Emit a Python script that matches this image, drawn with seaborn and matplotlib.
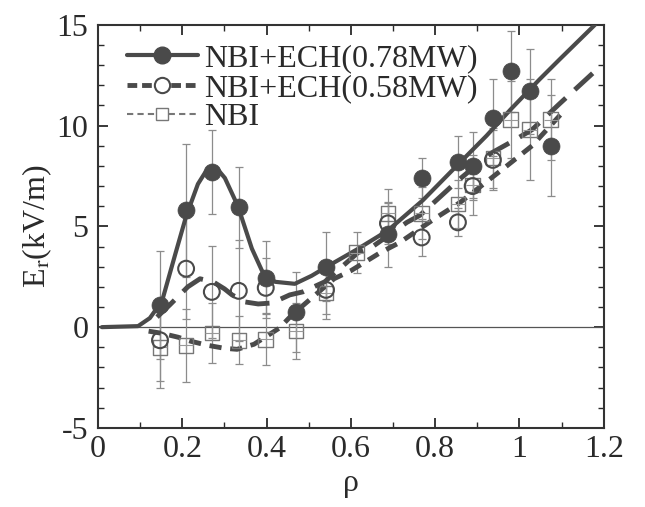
import seaborn as sns
import matplotlib.pyplot as plt
from matplotlib.lines import Line2D
from matplotlib.ticker import MultipleLocator

# measured points: NBI+ECH(0.78MW)
rho_078 = [0.147, 0.209, 0.270, 0.334, 0.398, 0.470, 0.541, 0.688, 0.768, 0.854, 0.889, 0.937, 0.979, 1.024, 1.074]
er_078 = [1.1, 5.8, 7.7, 5.95, 2.45, 0.75, 3.0, 4.6, 7.4, 8.2, 8.0, 10.4, 12.7, 11.7, 9.0]
err_078 = [2.7, 3.3, 2.1, 2.0, 1.8, 2.0, 1.7, 1.6, 1.0, 1.3, 1.7, 1.9, 2.0, 2.1, 2.5]

# measured points: NBI+ECH(0.58MW)
rho_058 = [0.147, 0.209, 0.270, 0.334, 0.398, 0.541, 0.688, 0.768, 0.854, 0.889, 0.937]
er_058 = [-0.65, 2.9, 1.75, 1.8, 1.95, 1.85, 5.15, 4.45, 5.2, 7.0, 8.3]
err_058 = [2.0, 2.5, 2.3, 2.5, 1.5, 1.2, 1.0, 0.9, 0.7, 0.6, 1.5]

# measured points: NBI only
rho_nbi = [0.147, 0.209, 0.270, 0.334, 0.398, 0.470, 0.541, 0.614, 0.688, 0.768, 0.854, 0.889, 0.937, 0.979, 1.024, 1.074]
er_nbi = [-1.0, -0.9, -0.3, -0.65, -0.6, -0.2, 1.7, 3.7, 5.65, 5.65, 6.1, 7.05, 8.4, 10.3, 9.8, 10.3]
err_nbi = [2.0, 1.8, 1.5, 1.2, 1.3, 1.4, 1.3, 1.0, 1.2, 1.3, 1.2, 1.5, 1.5, 1.9, 2.5, 2.0]

# fitted curves
fit_rho_078 = [0.009, 0.095, 0.123, 0.152, 0.183, 0.209, 0.237, 0.255, 0.270, 0.285, 0.301, 0.332,
               0.365, 0.389, 0.420, 0.467, 0.507, 0.543, 0.614, 0.688, 0.771, 0.851, 0.922, 0.979,
               1.048, 1.096, 1.179]
fit_er_078 = [0.0, 0.05, 0.45, 1.3, 3.6, 5.5, 7.1, 7.7, 7.9, 7.8, 7.4, 6.0,
              3.9, 2.8, 2.25, 2.15, 2.55, 3.0, 3.85, 4.8, 6.3, 8.0, 9.5, 10.8,
              12.3, 13.3, 15.0]

fit_rho_058 = [0.14, 0.17, 0.213, 0.242, 0.273, 0.30, 0.318, 0.349, 0.38, 0.413, 0.455, 0.486,
               0.538, 0.617, 0.645, 0.733, 0.764, 0.85, 0.93, 0.99, 1.03, 1.096, 1.174]
fit_er_058 = [0.5, 1.1, 2.0, 2.4, 2.25, 1.9, 1.6, 1.25, 1.15, 1.2, 1.6, 1.75,
              2.25, 3.7, 3.9, 5.2, 5.55, 7.2, 8.6, 9.3, 9.8, 11.1, 12.6]

fit_rho_nbi = [0.12, 0.15, 0.19, 0.22, 0.26, 0.30, 0.33, 0.37, 0.40, 0.43, 0.46, 0.51,
               0.56, 0.60, 0.67, 0.716, 0.80, 0.86, 0.97, 1.03, 1.10]
fit_er_nbi = [-0.2, -0.3, -0.5, -0.7, -0.9, -1.05, -1.1, -0.85, -0.45, -0.05, 0.6, 1.5,
              2.4, 2.8, 3.7, 4.2, 5.4, 6.2, 8.0, 9.0, 10.6]

xtick_vals = [0, 0.2, 0.4, 0.6, 0.8, 1.0, 1.2]
xtick_labels = ["0", "0.2", "0.4", "0.6", "0.8", "1", "1.2"]
ytick_vals = [-5, 0, 5, 10, 15]
ytick_labels = ["-5", "0", "5", "10", "15"]

sns.set_style("ticks")
plt.rcParams["font.family"] = "serif"
plt.rcParams["font.serif"] = ["Liberation Serif", "DejaVu Serif"]
plt.rcParams["mathtext.fontset"] = "stix"

dark = "#4a4a4a"
bar_col = "#8c8c8c"
txt = "#2a2a2a"

fig = plt.figure(figsize=(6.45, 5.07), dpi=100)
ax = fig.add_axes([0.152, 0.156, 0.784, 0.795])

ax.axhline(0, color="#555555", lw=0.9, zorder=1)

# error bars
for xs, ys, es in [(rho_078, er_078, err_078), (rho_058, er_058, err_058), (rho_nbi, er_nbi, err_nbi)]:
    ax.errorbar(xs, ys, yerr=es, fmt="none", ecolor=bar_col, elinewidth=0.9,
                capsize=3, capthick=0.9, zorder=2)

# fitted curves
sns.lineplot(x=fit_rho_078, y=fit_er_078, ax=ax, color=dark, lw=3.0, sort=False,
             estimator=None, zorder=4)
sns.lineplot(x=fit_rho_058, y=fit_er_058, ax=ax, color=dark, lw=3.5, sort=False,
             estimator=None, linestyle=(0, (5, 2.5)), zorder=4)
sns.lineplot(x=fit_rho_nbi, y=fit_er_nbi, ax=ax, color=dark, lw=3.5, sort=False,
             estimator=None, linestyle=(0, (2.5, 1.8)), zorder=4)

# markers
sns.scatterplot(x=rho_nbi, y=er_nbi, ax=ax, marker="s", s=110, fc="none", ec="#777777",
                linewidth=1.0, zorder=5)
sns.scatterplot(x=rho_nbi, y=er_nbi, ax=ax, marker="+", s=110, color="#999999",
                linewidth=0.8, zorder=5)
sns.scatterplot(x=rho_058, y=er_058, ax=ax, marker="o", s=130, fc="none", ec=dark,
                linewidth=1.5, zorder=6)
sns.scatterplot(x=rho_078, y=er_078, ax=ax, marker="o", s=150, color=dark, ec=dark,
                linewidth=0.5, zorder=7)

ax.set_xlim(0, 1.2)
ax.set_ylim(-5, 15)
ax.set_xticks(xtick_vals)
ax.set_xticklabels(xtick_labels)
ax.set_yticks(ytick_vals)
ax.set_yticklabels(ytick_labels)
ax.xaxis.set_minor_locator(MultipleLocator(0.1))
ax.yaxis.set_minor_locator(MultipleLocator(1))
ax.tick_params(which="major", direction="in", top=True, right=True, length=7, width=1.3,
               labelsize=23, colors=txt)
ax.tick_params(axis="x", which="major", pad=5)
ax.tick_params(axis="y", which="major", pad=7)
ax.tick_params(which="minor", direction="in", top=True, right=True, length=4, width=1.0,
               colors=txt)
for sp in ax.spines.values():
    sp.set_linewidth(1.5)
    sp.set_color("#333333")

ax.set_xlabel("ρ", fontsize=23, color=txt)
ax.set_ylabel(r"E$_\mathrm{r}$(kV/m)", fontsize=23, color=txt, labelpad=2)

handles = [
    Line2D([], [], color=dark, lw=3, marker="o", ms=12, mfc=dark, mec=dark),
    Line2D([], [], color=dark, lw=3.5, ls=(0, (2, 1)), marker="o", ms=11, mfc="white", mec=dark, mew=1.5),
    Line2D([], [], color="#777777", lw=1.5, ls=(0, (3, 2)), marker="s", ms=9, mfc="white", mec="#777777"),
]
labels = ["NBI+ECH(0.78MW)", "NBI+ECH(0.58MW)", "NBI"]
ax.legend(handles, labels, loc="upper left", frameon=False, fontsize=23, handlelength=2.2,
          handletextpad=0.2, labelspacing=0.0, borderaxespad=0.2, bbox_to_anchor=(0.02, 1.0))
for t in ax.get_legend().get_texts():
    t.set_color(txt)

fig.savefig("out.png", dpi=100)
